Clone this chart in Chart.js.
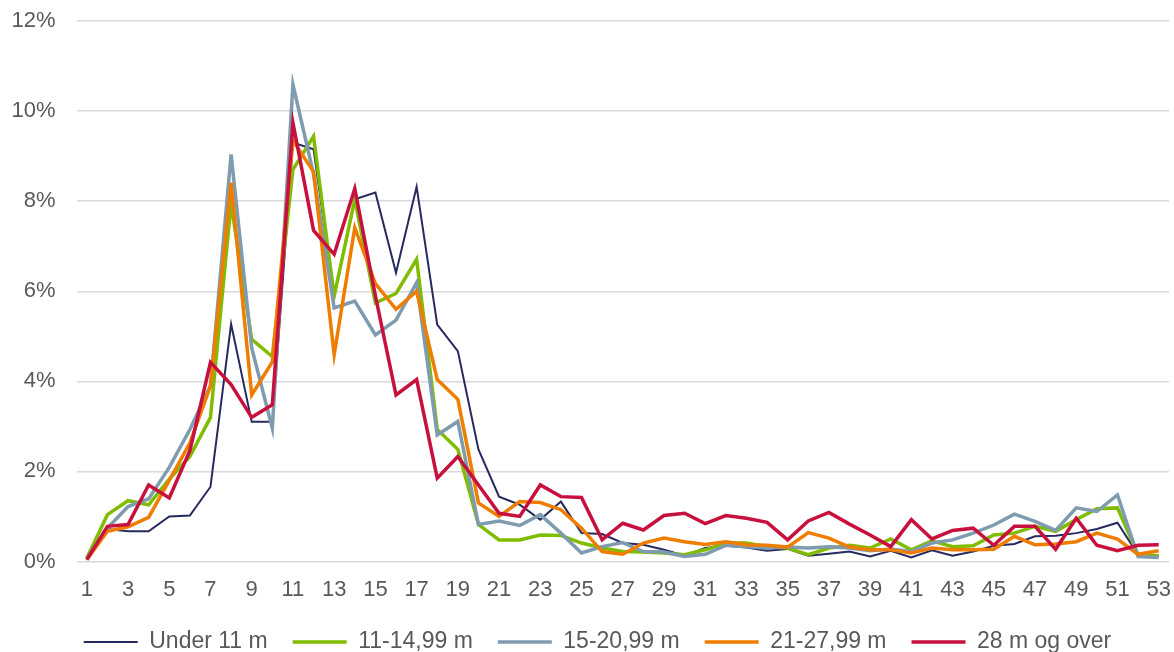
<!DOCTYPE html>
<html>
<head>
<meta charset="utf-8">
<script src="https://cdn.jsdelivr.net/npm/chart.js@4.4.1/dist/chart.umd.min.js"></script>
<style>
    html, body { margin: 0; padding: 0; background: #fff; }
    #wrap { width: 1174px; height: 652px; position: relative; }
</style>
</head>
<body>
<div id="wrap"><canvas id="lineChart"></canvas></div>
<script>
const weeks = ['1', '2', '3', '4', '5', '6', '7', '8', '9', '10',
    '11', '12', '13', '14', '15', '16', '17', '18', '19', '20',
    '21', '22', '23', '24', '25', '26', '27', '28', '29', '30',
    '31', '32', '33', '34', '35', '36', '37', '38', '39', '40',
    '41', '42', '43', '44', '45', '46', '47', '48', '49', '50',
    '51', '52', '53'];

// andel i prosent per uke
const under11 = [0.05, 0.72, 0.67, 0.67, 1.0, 1.02, 1.66, 5.27, 3.1, 3.1,
    9.3, 9.15, 5.9, 8.04, 8.19, 6.41, 8.32, 5.26, 4.67, 2.49,
    1.44, 1.26, 0.93, 1.33, 0.63, 0.61, 0.41, 0.37, 0.26, 0.13,
    0.3, 0.35, 0.31, 0.24, 0.28, 0.13, 0.17, 0.22, 0.11, 0.24,
    0.09, 0.25, 0.13, 0.22, 0.35, 0.39, 0.56, 0.57, 0.63, 0.72,
    0.86, 0.15, 0.13];
const m11to15 = [0.08, 1.04, 1.35, 1.26, 1.83, 2.33, 3.2, 7.95, 4.93, 4.55,
    8.7, 9.44, 5.89, 8.04, 5.74, 5.95, 6.71, 2.93, 2.49, 0.82,
    0.48, 0.48, 0.59, 0.58, 0.41, 0.3, 0.22, 0.21, 0.19, 0.15,
    0.26, 0.41, 0.41, 0.33, 0.3, 0.15, 0.3, 0.36, 0.3, 0.5,
    0.26, 0.46, 0.33, 0.35, 0.59, 0.63, 0.78, 0.67, 0.93, 1.17,
    1.19, 0.15, 0.13];
const m15to21 = [0.07, 0.74, 1.22, 1.39, 2.09, 2.93, 3.9, 9.04, 4.74, 2.96,
    10.59, 8.6, 5.63, 5.78, 5.03, 5.36, 6.19, 2.81, 3.11, 0.82,
    0.9, 0.8, 1.04, 0.63, 0.19, 0.33, 0.42, 0.22, 0.21, 0.11,
    0.16, 0.36, 0.33, 0.3, 0.32, 0.3, 0.33, 0.3, 0.24, 0.28,
    0.22, 0.41, 0.48, 0.63, 0.81, 1.05, 0.89, 0.69, 1.19, 1.11,
    1.48, 0.11, 0.09];
const m21to28 = [0.04, 0.67, 0.77, 0.98, 1.8, 2.63, 3.9, 8.41, 3.7, 4.43,
    9.35, 8.65, 4.59, 7.41, 6.17, 5.6, 6.0, 4.04, 3.6, 1.3,
    1.0, 1.33, 1.31, 1.15, 0.74, 0.22, 0.16, 0.41, 0.52, 0.44,
    0.38, 0.44, 0.37, 0.36, 0.32, 0.64, 0.52, 0.32, 0.26, 0.26,
    0.19, 0.3, 0.26, 0.26, 0.27, 0.56, 0.37, 0.39, 0.44, 0.63,
    0.5, 0.16, 0.24];
const over28 = [0.04, 0.78, 0.82, 1.7, 1.41, 2.46, 4.42, 3.93, 3.2, 3.48,
    9.74, 7.35, 6.82, 8.28, 5.9, 3.7, 4.04, 1.85, 2.33, 1.7,
    1.07, 1.0, 1.7, 1.44, 1.42, 0.48, 0.85, 0.7, 1.02, 1.07,
    0.84, 1.02, 0.96, 0.87, 0.48, 0.9, 1.09, 0.83, 0.59, 0.33,
    0.93, 0.5, 0.69, 0.74, 0.36, 0.78, 0.78, 0.27, 0.96, 0.36,
    0.24, 0.36, 0.37];

const yTicks = [0, 2, 4, 6, 8, 10, 12];

const textColor = '#595959';
const fontFamily = '"Liberation Sans", Arial, sans-serif';

function serie(label, data, color, width, order) {
    return {
        label: label,
        data: data,
        borderColor: color,
        backgroundColor: color,
        borderWidth: width,
        pointRadius: 0,
        pointHoverRadius: 0,
        tension: 0,
        fill: false,
        order: order
    };
}

// flytter legenden litt mot høyre, som i originalen
const legendShift = {
    id: 'legendShift',
    afterLayout(chart) {
        if (chart.legend) chart.legend.left += 15;
    }
};

const ctx = document.getElementById('lineChart').getContext('2d');

new Chart(ctx, {
    type: 'line',
    data: {
        labels: weeks,
        datasets: [
            serie('Under 11 m', under11, '#262a5e', 2, 5),
            serie('11-14,99 m', m11to15, '#80bc00', 3.5, 4),
            serie('15-20,99 m', m15to21, '#7f9bb0', 3.5, 3),
            serie('21-27,99 m', m21to28, '#ef7d00', 3.5, 2),
            serie('28 m og over', over28, '#c8103e', 3.5, 1)
        ]
    },
    plugins: [legendShift],
    options: {
        responsive: true,
        maintainAspectRatio: false,
        animation: false,
        layout: {
            padding: { left: 11, right: 5, top: 21, bottom: -11.5 }
        },
        plugins: {
            tooltip: { enabled: false },
            legend: {
                position: 'bottom',
                labels: {
                    usePointStyle: true,
                    pointStyle: 'line',
                    pointStyleWidth: 54,
                    padding: 25,
                    color: textColor,
                    font: { family: fontFamily, size: 23 },
                    sort: (a, b) => a.datasetIndex - b.datasetIndex
                }
            }
        },
        scales: {
            x: {
                offset: true,
                grid: { display: false, drawTicks: false },
                border: { display: false },
                afterFit: function (scale) {
                    scale.height = 44;
                    scale.paddingLeft = 0;
                    scale.paddingRight = 0;
                },
                ticks: {
                    autoSkip: false,
                    maxRotation: 0,
                    padding: 15,
                    color: textColor,
                    font: { family: fontFamily, size: 22 },
                    callback: function (value, index) {
                        return index % 2 === 0 ? weeks[index] : '';
                    }
                }
            },
            y: {
                min: 0,
                max: 12,
                afterBuildTicks: function (scale) {
                    scale.ticks = yTicks.map(v => ({ value: v }));
                },
                afterFit: function (scale) {
                    scale.width = 65.5;
                    scale.paddingTop = 0;
                    scale.paddingBottom = 0;
                },
                grid: { color: '#d9d9d9', lineWidth: 1.5, drawTicks: false },
                border: { display: false },
                ticks: {
                    padding: 21,
                    color: textColor,
                    font: { family: fontFamily, size: 22 },
                    callback: value => value + '%'
                }
            }
        }
    }
});
</script>
</body>
</html>
